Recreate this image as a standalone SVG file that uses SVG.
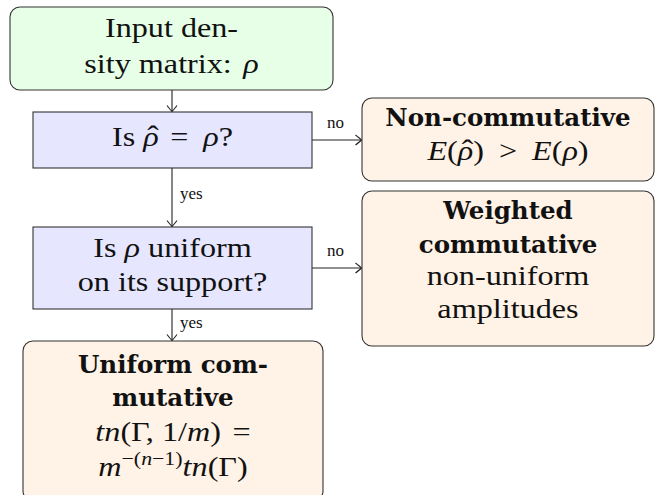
<svg xmlns="http://www.w3.org/2000/svg" width="655" height="495" viewBox="0 0 655 495">
<style>
.box{stroke:#333;stroke-width:1.1}
.g{fill:#e6ffe6}
.b{fill:#e6e6ff}
.o{fill:#fff2e6}
text{fill:#111;text-anchor:middle}
.t{font-family:"Liberation Serif",serif;font-size:28px}
.bf{font-family:"DejaVu Serif","Liberation Serif",serif;font-size:24.5px;font-weight:bold}
.lb{font-family:"Liberation Serif",serif;font-size:17px;text-anchor:start}
.i{font-style:italic}
.hat{font-style:normal;font-size:30px}
.edge{stroke:#222;stroke-width:1.1;fill:none;marker-end:url(#arr)}
</style>
<defs>
<marker id="arr" markerUnits="userSpaceOnUse" markerWidth="14" markerHeight="14" viewBox="-8 -7 10 14" refX="0" refY="0" orient="auto">
<path d="M-6,-5 Q-1.5,-1.5 0,0 Q-1.5,1.5 -6,5" fill="none" stroke="#222" stroke-width="1.1"/>
</marker>
</defs>
<g id="connectors">
<line class="edge" x1="172" y1="90" x2="172" y2="111.5"/>
<line class="edge" x1="172" y1="168" x2="172" y2="226.5"/>
<line class="edge" x1="172" y1="309" x2="172" y2="340.5"/>
<line class="edge" x1="312" y1="140" x2="361.5" y2="140"/>
<line class="edge" x1="312" y1="268" x2="361.5" y2="268"/>
<text class="lb" x="180" y="199">yes</text>
<text class="lb" x="180" y="328">yes</text>
<text class="lb" x="327" y="128">no</text>
<text class="lb" x="327" y="256">no</text>
</g>
<g id="input">
<rect class="box g" x="10" y="7" width="323" height="83" rx="10"/>
<text class="t" transform="scale(1.15 1)" x="149.13" y="37">Input den-</text>
<text class="t" transform="scale(1.15 1)" x="149.13" y="73">sity matrix: <tspan dx="3" class="i">ρ</tspan></text>
</g>
<g id="q1">
<rect class="box b" x="33" y="112" width="279" height="56"/>
<text class="t" transform="scale(1.15 1)" x="150" y="146">Is <tspan class="i">ρ</tspan><tspan class="hat" dx="-10">ˆ</tspan><tspan dx="10">=</tspan><tspan dx="13" class="i">ρ</tspan>?</text>
</g>
<g id="q2">
<rect class="box b" x="33" y="227" width="279" height="82"/>
<text class="t" transform="scale(1.15 1)" x="150" y="257">Is <tspan class="i">ρ</tspan> uniform</text>
<text class="t" transform="scale(1.15 1)" x="150" y="291">on its support?</text>
</g>
<g id="noncomm">
<rect class="box o" x="362" y="98" width="292" height="83" rx="10"/>
<text class="bf" x="508" y="126">Non-commutative</text>
<text class="t" transform="scale(1.15 1)" x="441.74" y="160"><tspan class="i">E</tspan>(<tspan class="i">ρ</tspan><tspan class="hat" dx="-10">ˆ</tspan><tspan dx="0">)</tspan><tspan dx="13">&gt;</tspan><tspan dx="13" class="i">E</tspan>(<tspan class="i">ρ</tspan>)</text>
</g>
<g id="weighted">
<rect class="box o" x="362" y="191" width="292" height="155" rx="10"/>
<text class="bf" x="508" y="219">Weighted</text>
<text class="bf" x="508" y="253">commutative</text>
<text class="t" transform="scale(1.15 1)" x="441.74" y="285">non-uniform</text>
<text class="t" transform="scale(1.15 1)" x="441.74" y="318">amplitudes</text>
</g>
<g id="uniform">
<rect class="box o" x="23" y="341" width="300" height="160" rx="10"/>
<text class="bf" x="173" y="373">Uniform com-</text>
<text class="bf" x="173" y="406">mutative</text>
<text class="t" transform="scale(1.15 1)" x="150.43" y="441"><tspan class="i">tn</tspan>(Γ, 1/<tspan class="i">m</tspan>)<tspan dx="10">=</tspan></text>
<text class="t" transform="scale(1.15 1)" x="150.43" y="476"><tspan class="i">m</tspan><tspan font-size="19" dy="-11">−(<tspan class="i">n</tspan>−1)</tspan><tspan dy="11" class="i">tn</tspan>(Γ)</text>
</g>
</svg>
